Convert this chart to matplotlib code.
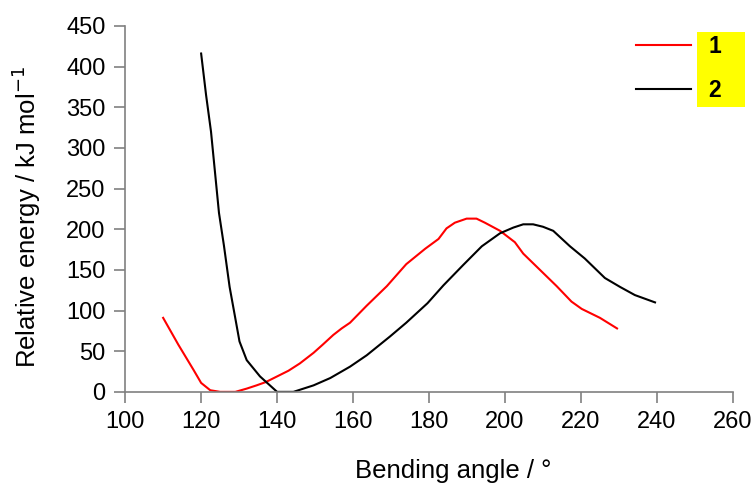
import matplotlib.pyplot as plt
from matplotlib.patches import Rectangle

plt.rcParams['font.family'] = ['Liberation Sans', 'DejaVu Sans']

# curve 1 (red)
angle1 = [110, 114, 118, 120, 122.4, 125, 129, 132, 134.6, 137, 140, 143, 146, 149.6,
          152, 154.8, 157, 159.2, 163.6, 168.9, 174, 179, 182.5, 184.6, 186.8, 189.9,
          192.5, 194.7, 198.7, 202.6, 204.8, 209.2, 213.6, 217.5, 220.2, 225, 229.5]
energy1 = [91, 58, 27, 11, 2, 0, 0, 4, 8, 12, 19, 26, 35, 48,
           58, 70, 78, 85, 106, 130, 157, 176, 188, 201, 208, 213,
           213, 208, 198, 184, 170, 150, 130, 111, 102, 91, 78]

# curve 2 (black)
angle2 = [120, 121.3, 122.6, 124.7, 126, 127.5, 128.9, 130.1, 132, 135.5, 140, 144.3,
          149.6, 154, 159.2, 163.6, 169.7, 174, 179.6, 183.8, 189, 193.9, 198.7, 202.2,
          204.8, 207.4, 210, 212.7, 217.1, 221, 226.3, 230.3, 234.2, 239.5]
energy2 = [416, 365, 320, 220, 180, 129, 93, 62, 39, 19, 0, 0,
           8, 17, 31, 45, 68, 85, 109, 131, 156, 179, 195, 202,
           206, 206, 203, 198, 179, 164, 140, 129, 119, 110]

labels = ['1', '2']

fig = plt.figure(figsize=(7.54, 4.88), dpi=100)
ax = fig.add_axes([0.166, 0.197, 0.806, 0.750])

l1, = ax.plot(angle1, energy1, color='#ff0000', lw=1.5)
l2, = ax.plot(angle2, energy2, color='black', lw=1.5)

ax.set_xlim(100, 260)
ax.set_ylim(0, 450)
ax.set_xticks(range(100, 261, 20))
ax.set_yticks(range(0, 451, 50))

for side in ['top', 'right']:
    ax.spines[side].set_visible(False)
for side in ['left', 'bottom']:
    ax.spines[side].set_color('#808080')
    ax.spines[side].set_linewidth(1.2)
ax.tick_params(length=8, width=1.2, color='#808080', labelsize=17, pad=6)

ax.set_xlabel('Bending angle / °', fontsize=18.5)
ax.set_ylabel('Relative energy / kJ mol$^{-1}$', fontsize=18.5)
ax.xaxis.set_label_coords(0.54, -0.183)
ax.yaxis.set_label_coords(-0.135, 0.478)

# yellow box behind the legend labels
fig.patches.append(Rectangle((697 / 754, 1 - 107 / 488), 48 / 754, 75 / 488,
                             transform=fig.transFigure, facecolor='#ffff00',
                             edgecolor='none', zorder=0))
leg = fig.legend([l1, l2], labels, loc='upper left', bbox_to_anchor=(636 / 754, 0.928),
                 frameon=False, borderpad=0, borderaxespad=0,
                 handlelength=2.4, handletextpad=0.75,
                 labelspacing=0.93, prop={'size': 16.5, 'weight': 'bold'})

fig.savefig('out.png', dpi=100)
